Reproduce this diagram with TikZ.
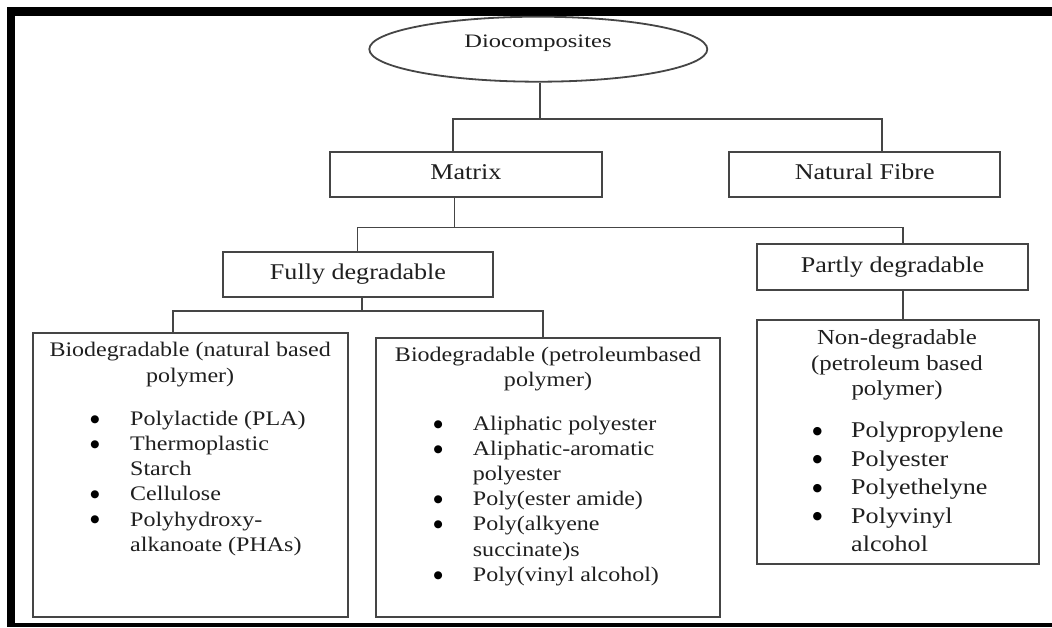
\documentclass[tikz,border=0pt]{standalone}
\usepackage{fontspec}
\setmainfont{Liberation Serif}
\newfontfamily\fa[FakeStretch=1.16]{Liberation Serif}
\newfontfamily\fb[FakeStretch=1.29]{Liberation Serif}
\newfontfamily\dvs{DejaVu Sans}
\usetikzlibrary{shapes.geometric}
\definecolor{ln}{gray}{0.27}
\definecolor{tx}{gray}{0.12}
\begin{document}
\begin{tikzpicture}[x=1pt,y=-1pt,
  box/.style={draw=ln, line width=1.8pt, rectangle, inner sep=0pt},
  conn/.style={draw=ln, line width=1.6pt},
  lvl/.style={text=tx, font=\fa\fontsize{22.5}{27}\selectfont, text height=15.75pt, text depth=4.5pt},
  hd/.style={text=tx, font=\fa\fontsize{20.7}{25}\selectfont, text height=14.5pt, text depth=4.1pt, inner sep=0pt},
  it/.style={hd, anchor=west},
  hdb/.style={text=tx, font=\fa\fontsize{21.4}{25}\selectfont, text height=15pt, text depth=4.3pt, inner sep=0pt},
  itb/.style={text=tx, font=\fa\fontsize{22.5}{27}\selectfont, text height=15.75pt, text depth=4.5pt, inner sep=0pt, anchor=west},
  bul/.style={text=black, font=\dvs\fontsize{10.5}{12}\selectfont, text height=7pt, text depth=0pt, inner sep=0pt, yshift=1.5pt},
  bulb/.style={bul, font=\dvs\fontsize{11}{12}\selectfont}
]
\useasboundingbox (0,0) rectangle (1052,627);
% frame
\fill[white] (0,0) rectangle (1052,627);
\fill[black] (7,7.3) rectangle (1052,15.7);
\fill[black] (7,7.3) rectangle (15,627);
\fill[black] (7,623.3) rectangle (1052,627);

% top ellipse
\node[ellipse, draw=ln, line width=1.8pt, minimum width=338pt, minimum height=65pt, inner sep=0pt] (bio) at (538.3,49.2) {};
\node[text=tx, font=\fb\fontsize{19}{22}\selectfont, text height=13.3pt, text depth=3.8pt, inner sep=0pt] (biot) at (538,42.7) {Diocomposites};

% level 1
\node[box, lvl, minimum width=271.7pt, minimum height=45pt] (matrix) at (465.9,174.2) {Matrix};
\node[box, lvl, minimum width=270.7pt, minimum height=45pt] (fibre) at (864.7,174.2) {Natural Fibre};

% level 2
\node[box, lvl, minimum width=270.6pt, minimum height=45pt] (fully) at (358,274.2) {Fully degradable};
\node[box, lvl, minimum width=271.6pt, minimum height=46pt] (partly) at (892.5,267) {Partly degradable};

% level 3 boxes
\node[box, minimum width=315pt, minimum height=284pt] (nat) at (190.2,474.7) {};
\node[box, minimum width=344pt, minimum height=278.4pt] (pet) at (548,477.5) {};
\node[box, minimum width=282pt, minimum height=244pt] (non) at (898,442) {};

% connectors
\coordinate (j1) at (540,119);
\coordinate (jm) at (453,119);
\coordinate (jn) at (881.7,119);
\draw[conn] (bio.south -| j1) -- (j1);
\draw[conn] (jm |- matrix.north) -- (jm) -- (jn) -- (jn |- fibre.north);

\coordinate (k0) at (454.3,227.3);
\coordinate (kf) at (357.3,227.3);
\coordinate (kp) at (902.7,227.3);
\draw[conn] (k0 |- matrix.south) -- (k0);
\draw[conn] (kf |- fully.north) -- (kf) -- (kp) -- (kp |- partly.north);

\coordinate (l0) at (361.7,310.7);
\coordinate (l1) at (172.7,310.7);
\coordinate (l2) at (542.7,310.7);
\draw[conn] (l0 |- fully.south) -- (l0);
\draw[conn] (l1 |- nat.north) -- (l1) -- (l2) -- (l2 |- pet.north);
\draw[conn] (kp |- partly.south) -- (kp |- non.north);

% box 1 text
\node[hd] (n1) at (190.2,351.7) {Biodegradable (natural based};
\node[hd] (n2) at (190.2,377.3) {polymer)};
\node[bul] (nb1) at (95,420) {●};
\node[it] (nt1) at (130,420) {Polylactide (PLA)};
\node[bul] (nb2) at (95,445.2) {●};
\node[it] (nt2) at (130,445.2) {Thermoplastic};
\node[it] (nt3) at (130,470.4) {Starch};
\node[bul] (nb4) at (95,495.6) {●};
\node[it] (nt4) at (130,495.6) {Cellulose};
\node[bul] (nb5) at (95,520.8) {●};
\node[it] (nt5) at (130,520.8) {Polyhydroxy-};
\node[it] (nt6) at (130,546) {alkanoate (PHAs)};

% box 2 text
\node[hd] (p1) at (548,356) {Biodegradable (petroleumbased};
\node[hd] (p2) at (548,381.7) {polymer)};
\node[bul] (pb1) at (438.3,425) {●};
\node[it] (pt1) at (472.7,425) {Aliphatic polyester};
\node[bul] (pb2) at (438.3,450.2) {●};
\node[it] (pt2) at (472.7,450.2) {Aliphatic-aromatic};
\node[it] (pt3) at (472.7,475.3) {polyester};
\node[bul] (pb4) at (438.3,500.5) {●};
\node[it] (pt4) at (472.7,500.5) {Poly(ester amide)};
\node[bul] (pb5) at (438.3,525.7) {●};
\node[it] (pt5) at (472.7,525.7) {Poly(alkyene};
\node[it] (pt6) at (472.7,550.8) {succinate)s};
\node[bul] (pb7) at (438.3,576) {●};
\node[it] (pt7) at (472.7,576) {Poly(vinyl alcohol)};

% box 3 text
\node[hdb] (q1) at (897,339.3) {Non-degradable};
\node[hdb] (q2) at (897,365) {(petroleum based};
\node[hdb] (q3) at (897,390) {polymer)};
\node[bulb] (qb1) at (817.3,432) {●};
\node[itb] (qt1) at (851,432) {Polypropylene};
\node[bulb] (qb2) at (817.3,460.5) {●};
\node[itb] (qt2) at (851,460.5) {Polyester};
\node[bulb] (qb3) at (817.3,489) {●};
\node[itb] (qt3) at (851,489) {Polyethelyne};
\node[bulb] (qb4) at (817.3,517.5) {●};
\node[itb] (qt4) at (851,517.5) {Polyvinyl};
\node[itb] (qt5) at (851,546) {alcohol};
\end{tikzpicture}
\end{document}
